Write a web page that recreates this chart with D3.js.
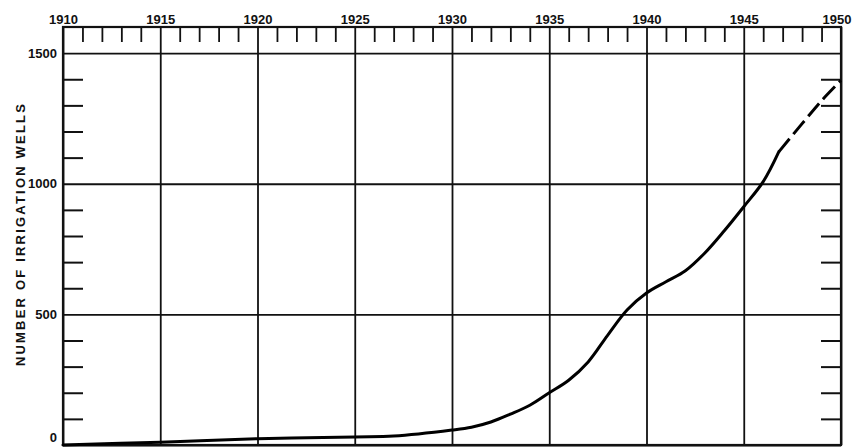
<!DOCTYPE html>
<html>
<head>
<meta charset="utf-8">
<script src="https://cdn.jsdelivr.net/npm/d3@7"></script>
<style>
  html, body { margin: 0; padding: 0; background: #fff; }
  svg { display: block; }
  text { font-family: "Liberation Sans", Arial, sans-serif; font-weight: bold; fill: #111; }
</style>
</head>
<body>
<svg id="chart" width="853" height="447"></svg>
<script>
// ---- data ----
const majorYears = [1910, 1915, 1920, 1925, 1930, 1935, 1940, 1945, 1950];
const yearLabels = ["1910", "1915", "1920", "1925", "1930", "1935", "1940", "1945", "1950"];
const wellTicks = [0, 500, 1000, 1500];
const wellLabels = ["0", "500", "1000", "1500"];
// recorded (solid) part of the curve
const recordedYears = [1910, 1915, 1920, 1925, 1927, 1930, 1931, 1932, 1933, 1934, 1935, 1936, 1937, 1938, 1939, 1940, 1941, 1942, 1943, 1944, 1945, 1946, 1946.8];
const recordedWells = [0, 11, 24, 31, 34, 57, 68, 88, 118, 152, 200, 248, 318, 420, 517, 582, 625, 667, 735, 820, 912, 1008, 1122];
// estimated (dashed) part of the curve
const estimatedYears = [1946.8, 1948, 1949, 1950];
const estimatedWells = [1122, 1230, 1318, 1396];

// ---- layout ----
const svg = d3.select("#chart");
const pLeft = 63, pRight = 841, pTop = 27, pBottom = 445;
const x = d3.scaleLinear().domain([1910, 1950]).range([pLeft, pRight]);
const y = d3.scaleLinear().domain([0, 1600]).range([pBottom, pTop]);

const minorYears = d3.range(1910, 1951).filter(v => v % 5 !== 0);
const minorWells = d3.range(100, 1600, 100).filter(v => v % 500 !== 0);

function styleAxis(g, w) {
  g.select(".domain").remove();
  g.selectAll(".tick line").attr("stroke", "#111").attr("stroke-width", w);
}

// vertical grid + top labels
const gx = svg.append("g").attr("transform", `translate(0,${pTop})`)
  .call(d3.axisTop(x).tickValues(majorYears)
    .tickFormat((d, i) => yearLabels[i])
    .tickSize(-(pBottom - pTop)).tickPadding(3));
styleAxis(gx, 1.8);
gx.selectAll("text").style("font-size", "13px").attr("fill", "#111");
// last label kept inside the window, right-aligned near the edge
gx.selectAll(".tick text").filter(d => d === 1950)
  .attr("text-anchor", "end").attr("x", 10);

// top minor ticks
const gxm = svg.append("g").attr("transform", `translate(0,${pTop})`)
  .call(d3.axisTop(x).tickValues(minorYears).tickFormat("").tickSize(-15));
styleAxis(gxm, 1.8);

// horizontal grid + left labels
const gy = svg.append("g").attr("transform", `translate(${pLeft},0)`)
  .call(d3.axisLeft(y).tickValues(wellTicks)
    .tickFormat((d, i) => wellLabels[i])
    .tickSize(-(pRight - pLeft)).tickPadding(6));
styleAxis(gy, 1.8);
gy.selectAll("text").style("font-size", "13px").attr("fill", "#111");
gy.selectAll(".tick text").filter(d => d === 0).attr("dy", "-0.25em");

// left minor ticks
const gym = svg.append("g").attr("transform", `translate(${pLeft},0)`)
  .call(d3.axisLeft(y).tickValues(minorWells).tickFormat("").tickSize(-20));
styleAxis(gym, 2);

// right minor ticks
const gyr = svg.append("g").attr("transform", `translate(${pRight},0)`)
  .call(d3.axisRight(y).tickValues(minorWells).tickFormat("").tickSize(-20));
styleAxis(gyr, 2);

// frame
svg.append("rect")
  .attr("x", pLeft).attr("y", pTop)
  .attr("width", pRight - pLeft).attr("height", pBottom - pTop)
  .attr("fill", "none").attr("stroke", "#111").attr("stroke-width", 2.2);

// curve
const line = d3.line()
  .x(d => x(d[0])).y(d => y(d[1]))
  .curve(d3.curveCatmullRom.alpha(0.5));

svg.append("path")
  .datum(recordedYears.map((v, i) => [v, recordedWells[i]]))
  .attr("d", line)
  .attr("fill", "none").attr("stroke", "#000")
  .attr("stroke-width", 3).attr("stroke-linecap", "round");

svg.append("path")
  .datum(estimatedYears.map((v, i) => [v, estimatedWells[i]]))
  .attr("d", line)
  .attr("fill", "none").attr("stroke", "#000")
  .attr("stroke-width", 3)
  .attr("stroke-dasharray", "17,6");

// axis title
svg.append("text")
  .attr("transform", `translate(20,234) rotate(-90)`)
  .attr("text-anchor", "middle")
  .attr("dy", "0.35em")
  .style("font-size", "13px")
  .style("letter-spacing", "2.2px")
  .text("NUMBER OF IRRIGATION WELLS");
</script>
</body>
</html>
